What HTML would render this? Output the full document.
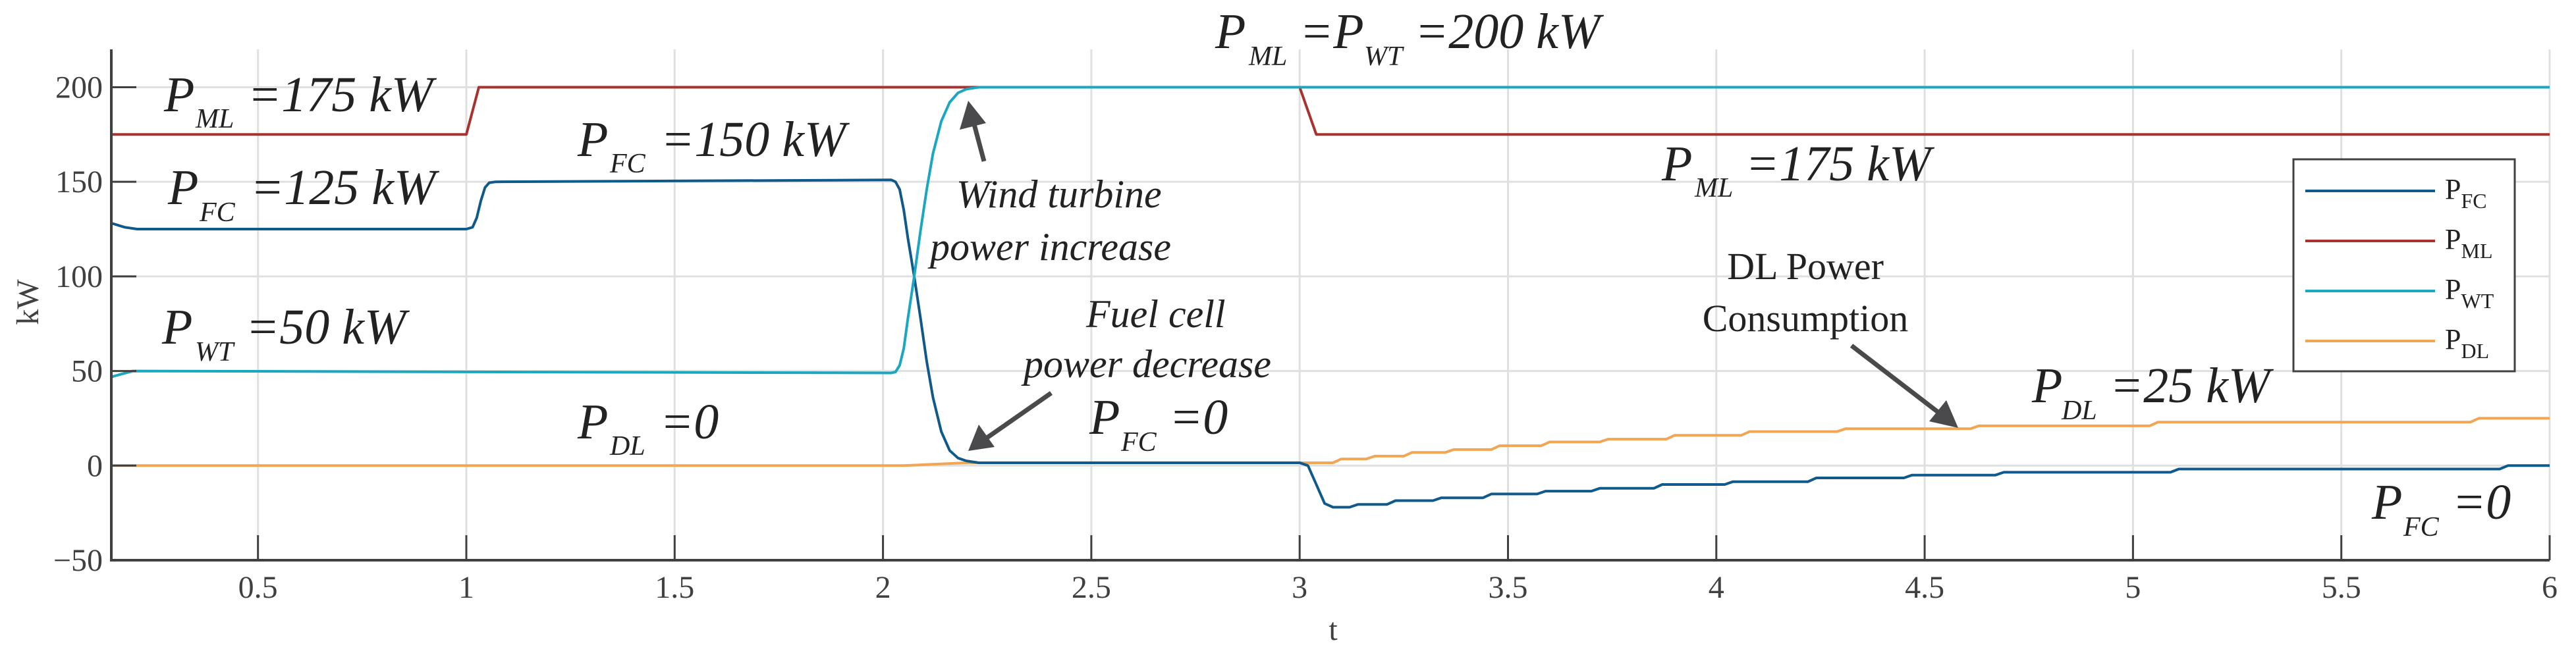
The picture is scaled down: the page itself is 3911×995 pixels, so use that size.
<!DOCTYPE html>
<html><head><meta charset="utf-8"><style>
html,body{margin:0;padding:0;background:#fff;}
svg{display:block;font-family:"Liberation Serif",serif;}
.tick{font-size:48px;fill:#404040;}
.ann{font-size:76px;font-style:italic;fill:#222;}
.sub{font-size:42px;font-style:italic;fill:#222;}
.note{font-size:60px;font-style:italic;fill:#222;}
.up{font-size:58px;fill:#222;}
</style></head><body>
<svg id="chart" width="3911" height="995" viewBox="0 0 3911 995" xmlns="http://www.w3.org/2000/svg">
<g id="grid"></g>
<g id="series"></g>
<g id="axes"></g>
<g id="annotations">
  <text class="ann" x="249" y="169">P<tspan class="sub" x="297" y="194">ML</tspan><tspan x="376" y="169">=175 kW</tspan></text>
  <text class="ann" x="255" y="310">P<tspan class="sub" x="303" y="336">FC</tspan><tspan x="380" y="310">=125 kW</tspan></text>
  <text class="ann" x="246" y="522">P<tspan class="sub" x="296" y="548">WT</tspan><tspan x="373" y="522">=50 kW</tspan></text>
  <text class="ann" x="877" y="237">P<tspan class="sub" x="926" y="262">FC</tspan><tspan x="1003" y="237">=150 kW</tspan></text>
  <text class="ann" x="877" y="666">P<tspan class="sub" x="926" y="691">DL</tspan><tspan x="1002" y="666">=0</tspan></text>
  <text class="ann" x="1845" y="73">P<tspan class="sub" x="1896" y="99">ML</tspan><tspan x="1973" y="73">=P</tspan><tspan class="sub" x="2071" y="99">WT</tspan><tspan x="2148" y="73">=200 kW</tspan></text>
  <text class="ann" x="2523" y="274">P<tspan class="sub" x="2573" y="299">ML</tspan><tspan x="2650" y="274">=175 kW</tspan></text>
  <text class="ann" x="1654" y="659">P<tspan class="sub" x="1702" y="685">FC</tspan><tspan x="1775" y="659">=0</tspan></text>
  <text class="ann" x="3085" y="611">P<tspan class="sub" x="3130" y="637">DL</tspan><tspan x="3203" y="611">=25 kW</tspan></text>
  <text class="ann" x="3601" y="788">P<tspan class="sub" x="3649" y="814">FC</tspan><tspan x="3723" y="788">=0</tspan></text>
  <text class="note" x="1452" y="315">Wind turbine</text>
  <text class="note" x="1412" y="395">power increase</text>
  <text class="note" x="1649" y="497">Fuel cell</text>
  <text class="note" x="1554" y="573">power decrease</text>
  <text class="up" x="2741" y="424" text-anchor="middle">DL Power</text>
  <text class="up" x="2741" y="503" text-anchor="middle">Consumption</text>
  <g fill="#4a4a4d" stroke="#4a4a4d">
    <line x1="1494" y1="245" x2="1478" y2="185" stroke-width="7"/>
    <polygon points="1470,153 1457,197 1497,187" stroke="none"/>
    <line x1="1596" y1="597" x2="1497" y2="666" stroke-width="7"/>
    <polygon points="1470,685 1486,645 1510,679" stroke="none"/>
    <line x1="2811" y1="525" x2="2945" y2="628" stroke-width="7"/>
    <polygon points="2973,650 2929,640 2955,608" stroke="none"/>
  </g>
</g>
<g id="legend">
  <rect x="3482" y="242" width="336" height="322" fill="#fff" stroke="#404040" stroke-width="3"/>
  <line x1="3500" y1="290" x2="3697" y2="290" stroke="#0f5a8a" stroke-width="4"/>
  <text x="3712" y="302" font-size="44" fill="#222">P<tspan font-size="32" dy="14">FC</tspan></text>
  <line x1="3500" y1="366" x2="3697" y2="366" stroke="#a8322d" stroke-width="4"/>
  <text x="3712" y="378" font-size="44" fill="#222">P<tspan font-size="32" dy="14">ML</tspan></text>
  <line x1="3500" y1="442" x2="3697" y2="442" stroke="#1aa7bf" stroke-width="4"/>
  <text x="3712" y="454" font-size="44" fill="#222">P<tspan font-size="32" dy="14">WT</tspan></text>
  <line x1="3500" y1="518" x2="3697" y2="518" stroke="#f2a552" stroke-width="4"/>
  <text x="3712" y="530" font-size="44" fill="#222">P<tspan font-size="32" dy="14">DL</tspan></text>
</g>
</svg>
<script>
const xTicks = [0.5, 1, 1.5, 2, 2.5, 3, 3.5, 4, 4.5, 5, 5.5, 6];
const xTickLabels = ["0.5","1","1.5","2","2.5","3","3.5","4","4.5","5","5.5","6"];
const yTicks = [-50, 0, 50, 100, 150, 200];
const yTickLabels = ["\u221250","0","50","100","150","200"];
const fcT = [0.15,0.18,0.21,1.0,1.015,1.025,1.035,1.045,1.055,1.07,2.02,2.03,2.04,2.05,2.06,2.075,2.09,2.105,2.12,2.14,2.16,2.18,2.2,2.23,3.0,3.02,3.04,3.06,3.08,3.12,3.14,3.21,3.23,3.32,3.34,3.44,3.46,3.57,3.59,3.70,3.72,3.85,3.87,4.02,4.04,4.22,4.24,4.45,4.47,4.67,4.69,5.09,5.11,5.88,5.90,6.0];
const fcV = [128,126,125,125,126,131,140,147,149.5,150,151,150,146,135,120,100,78,55,36,18,8,4,2.5,1.5,1.5,0,-10,-20,-22,-22,-20.5,-20.5,-18.5,-18.5,-17,-17,-15,-15,-13.5,-13.5,-12,-12,-10,-10,-8.5,-8.5,-6.5,-6.5,-5,-5,-3.5,-3.5,-1.8,-1.8,0,0];
const mlT = [0.15,1.0,1.03,3.0,3.04,6.0];
const mlV = [175,175,200,200,175,175];
const wtT = [0.15,0.2,2.02,2.03,2.04,2.05,2.06,2.075,2.09,2.105,2.12,2.14,2.16,2.18,2.2,2.23,2.26,6.0];
const wtV = [47,50,49,49.5,53,62,78,100,124,146,165,182,192,197,199,200,200,200];
const dlT = [0.15,2.05,2.2,3.0,3.08,3.1,3.16,3.18,3.25,3.27,3.35,3.37,3.46,3.48,3.58,3.60,3.72,3.74,3.88,3.90,4.06,4.08,4.29,4.31,4.61,4.63,5.04,5.06,5.81,5.83,6.0];
const dlV = [0,0,1.5,1.5,1.5,3.5,3.5,5,5,7,7,8.5,8.5,10.5,10.5,12.5,12.5,14,14,16,16,18,18,19.5,19.5,21,21,23,23,25,25];

const X0 = 169, XR = 3871, YT = 75, YB = 851;
const tMin = 0.148, tMax = 6, vMin = -50, vMax = 220;
function xs(t){ return X0 + (t - tMin) / (tMax - tMin) * (XR - X0); }
function ys(v){ return YB - (v - vMin) / (vMax - vMin) * (YB - YT); }
const NS = "http://www.w3.org/2000/svg";
function mk(tag, attrs, parent){ const e = document.createElementNS(NS, tag); for (const k in attrs) e.setAttribute(k, attrs[k]); parent.appendChild(e); return e; }
const grid = document.getElementById('grid'), axes = document.getElementById('axes'), series = document.getElementById('series');
xTicks.forEach((t, i) => {
  const g = mk('line', {x1: xs(t), x2: xs(t), y1: YT, y2: YB, stroke: '#e0e0e0', 'stroke-width': 3}, grid);
  
  
  const tk = mk('line', {x1: xs(t), x2: xs(t), y1: YB, y2: YB - 38, stroke: '#404040', 'stroke-width': 3}, axes);
  
  
  const lb = mk('text', {x: xs(t), y: 908, 'text-anchor': 'middle', class: 'tick'}, axes);
  lb.textContent = xTickLabels[i];
  
  
});
yTicks.forEach((v, i) => {
  const g = mk('line', {x1: X0, x2: XR, y1: ys(v), y2: ys(v), stroke: '#e0e0e0', 'stroke-width': 3}, grid);
  
  
  const tk = mk('line', {x1: X0, x2: X0 + 38, y1: ys(v), y2: ys(v), stroke: '#404040', 'stroke-width': 3}, axes);
  
  
  const lb = mk('text', {x: 156, y: ys(v) + 16, 'text-anchor': 'end', class: 'tick'}, axes);
  lb.textContent = yTickLabels[i];
  
  
});
const ax = mk('path', {d: `M${X0},${YT} L${X0},${YB} L${XR},${YB}`, fill: 'none', stroke: '#404040', 'stroke-width': 4}, axes);


const yl = mk('text', {x: 0, y: 0, transform: 'translate(58,459) rotate(-90)', 'text-anchor': 'middle', class: 'tick'}, axes);
yl.textContent = 'kW';


const xl = mk('text', {x: 2024, y: 972, 'text-anchor': 'middle', class: 'tick'}, axes);
xl.textContent = 't';


function line(T, V, color, name){
  const pts = T.map((t, i) => xs(t).toFixed(1) + ',' + ys(V[i]).toFixed(1)).join(' ');
  const p = mk('polyline', {points: pts, fill: 'none', stroke: color, 'stroke-width': 4, 'stroke-linejoin': 'round'}, series);
  
  
}
line(mlT, mlV, '#a8322d', 'line-p-ml');
line(dlT, dlV, '#f2a552', 'line-p-dl');
line(fcT, fcV, '#0f5a8a', 'line-p-fc');
line(wtT, wtV, '#1aa7bf', 'line-p-wt');
</script>
</body></html>
